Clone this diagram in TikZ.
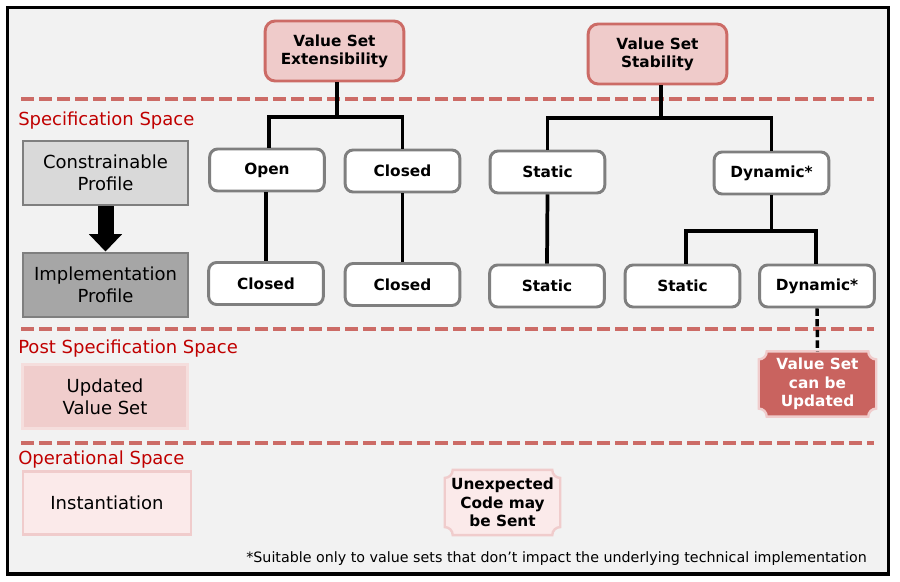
\documentclass[tikz,border=0pt]{standalone}
\usepackage{fontspec}
\setmainfont{DejaVu Sans}
\usetikzlibrary{calc,arrows.meta}
\definecolor{bgray}{HTML}{F2F2F2}
\definecolor{dashred}{HTML}{CC6B66}
\definecolor{secred}{HTML}{C00000}
\definecolor{titlefill}{HTML}{EFCBCA}
\definecolor{boxgray}{HTML}{7F7F7F}
\definecolor{lightgray}{HTML}{D9D9D9}
\definecolor{midgray}{HTML}{A6A6A6}
\definecolor{updfill}{HTML}{F0CDCC}
\definecolor{updborder}{HTML}{F5DEDD}
\definecolor{instfill}{HTML}{FBEAEA}
\definecolor{instborder}{HTML}{F0CCCC}
\definecolor{plaquered}{HTML}{C9635F}
\pgfdeclarelayer{back}
\pgfdeclarelayer{background}
\pgfsetlayers{back,background,main}
\newcommand\plaquepath[3]{%
  \path[#1] ([xshift=#3]#2.north west) -- ([xshift=-#3]#2.north east)
    arc[start angle=180,end angle=270,radius=#3] -- ([yshift=#3]#2.south east)
    arc[start angle=90,end angle=180,radius=#3] -- ([xshift=#3]#2.south west)
    arc[start angle=0,end angle=90,radius=#3] -- ([yshift=-#3]#2.north west)
    arc[start angle=270,end angle=360,radius=#3] -- cycle;}
\tikzset{
  rtxt/.style={font=\fontsize{13.5}{16.5}\selectfont, align=center},
  btxt/.style={font=\bfseries\fontsize{11.5}{13.7}\selectfont, align=center},
  seclabel/.style={font=\fontsize{13.5}{16}\selectfont, text=secred, anchor=west, inner sep=0pt},
  sepline/.style={draw=dashred, line width=3pt, dash pattern=on 9.75pt off 3.75pt},
  gbox/.style={rtxt, draw=boxgray, line width=2.2pt, minimum width=123.75pt, minimum height=48pt, inner sep=0pt},
  pbox/.style={rtxt, line width=2.2pt, minimum width=123.75pt, minimum height=47.5pt, inner sep=0pt},
  wbox/.style={btxt, draw=boxgray, fill=white, rounded corners=6pt, line width=2.2pt, minimum width=86pt, minimum height=31.5pt, inner sep=0pt},
  tbox/.style={btxt, draw=dashred, fill=titlefill, rounded corners=7.5pt, line width=2.2pt, minimum width=104pt, minimum height=45pt, inner sep=0pt},
  plaque/.style={btxt, minimum width=87.5pt, minimum height=48.5pt, inner sep=0pt},
  tree/.style={draw=black, line width=2.8pt},
}
\begin{document}
\begin{tikzpicture}[x=0.75pt,y=0.75pt]
\useasboundingbox (0,0) rectangle (900,-582);
\begin{pgfonlayer}{back}
  \fill[white] (0,0) rectangle (900,-582);
  \fill[bgray] (7.5,-7.5) rectangle (888.5,-574);
\end{pgfonlayer}

% separators
\draw[sepline] (21,-99) -- (874,-99);
\draw[sepline] (21,-329) -- (874,-329);
\draw[sepline] (21,-443) -- (874,-443);

% section labels
\node[seclabel] (specl) at (18,-121) {Specification Space};
\node[seclabel] (postl) at (18,-349) {Post Specification Space};
\node[seclabel] (opl) at (18,-460) {Operational Space};

% left boxes
\node[gbox, fill=lightgray] (constr) at (105.5,-173) {Constrainable\\Profile};
\node[gbox, fill=midgray] (impl) at (105.5,-285) {Implementation\\Profile};
\draw[-{Triangle[width=24pt,length=13pt]}, line width=12pt] (constr.south) -- (impl.north);
\node[pbox, draw=updborder, fill=updfill] (upd) at (105,-396.5) {Updated\\Value Set};
\node[pbox, draw=instborder, fill=instfill, minimum width=126pt] (inst) at (107,-503) {Instantiation};

% titles
\node[tbox] (vse) at (334.5,-51) {Value Set\\Extensibility};
\node[tbox] (vss) at (657.5,-54) {Value Set\\Stability};

% value boxes
\node[wbox] (open) at (267,-170) {Open};
\node[wbox] (closedA) at (402.5,-171) {Closed};
\node[wbox] (closedB) at (266,-283.5) {Closed};
\node[wbox] (closedC) at (402.5,-284.5) {Closed};
\node[wbox] (staticA) at (547.5,-172) {Static};
\node[wbox] (dynA) at (771.5,-173) {Dynamic*};
\node[wbox] (staticB) at (547,-286) {Static};
\node[wbox] (staticC) at (682.5,-286) {Static};
\node[wbox] (dynB) at (817,-286) {Dynamic*};

% tree connectors
\coordinate (j1) at (337,-117);
\coordinate (j2) at (661,-118);
\coordinate (j3) at (771.5,-231);
\draw[tree] (vse.south -| j1) -- (j1);
\draw[tree] (open.north -| 269,0) |- (j1) -| (closedA.north);
\draw[tree] (open.south -| 266,0) -- (closedB.north -| 266,0);
\draw[tree] (closedA.south) -- (closedC.north);
\draw[tree] (vss.south -| j2) -- (j2);
\draw[tree] (staticA.north) |- (j2) -| (dynA.north);
\draw[tree] (staticA.south) -- (staticB.north);
\draw[tree] (dynA.south) -- (j3);
\draw[tree] (staticC.north -| 686,0) |- (j3) -| (dynB.north -| 816,0);

% plaques
\node[plaque, text=white, minimum width=87.75pt] (vscu) at (817.5,-384) {Value Set\\can be\\Updated};
\node[plaque, minimum width=86.25pt] (unexp) at (502.5,-502.5) {Unexpected\\Code may\\be Sent};
\begin{pgfonlayer}{background}
  \plaquepath{fill=plaquered, draw=instborder, line width=1.8pt}{vscu}{6pt}
  \plaquepath{fill=instfill, draw=instborder, line width=1.8pt}{unexp}{6pt}
\end{pgfonlayer}
\draw[line width=2.6pt, dash pattern=on 5.5pt off 2.5pt] (dynB.south) -- (vscu.north);

% footnote
\node[font=\fontsize{10.7}{12.5}\selectfont, anchor=east, inner sep=0pt] (foot) at (867,-559) {*Suitable only to value sets that don’t impact the underlying technical implementation};

% frame
\draw[line width=2.3pt] (7.5,-7.5) rectangle (888.5,-574);
\end{tikzpicture}
\end{document}
